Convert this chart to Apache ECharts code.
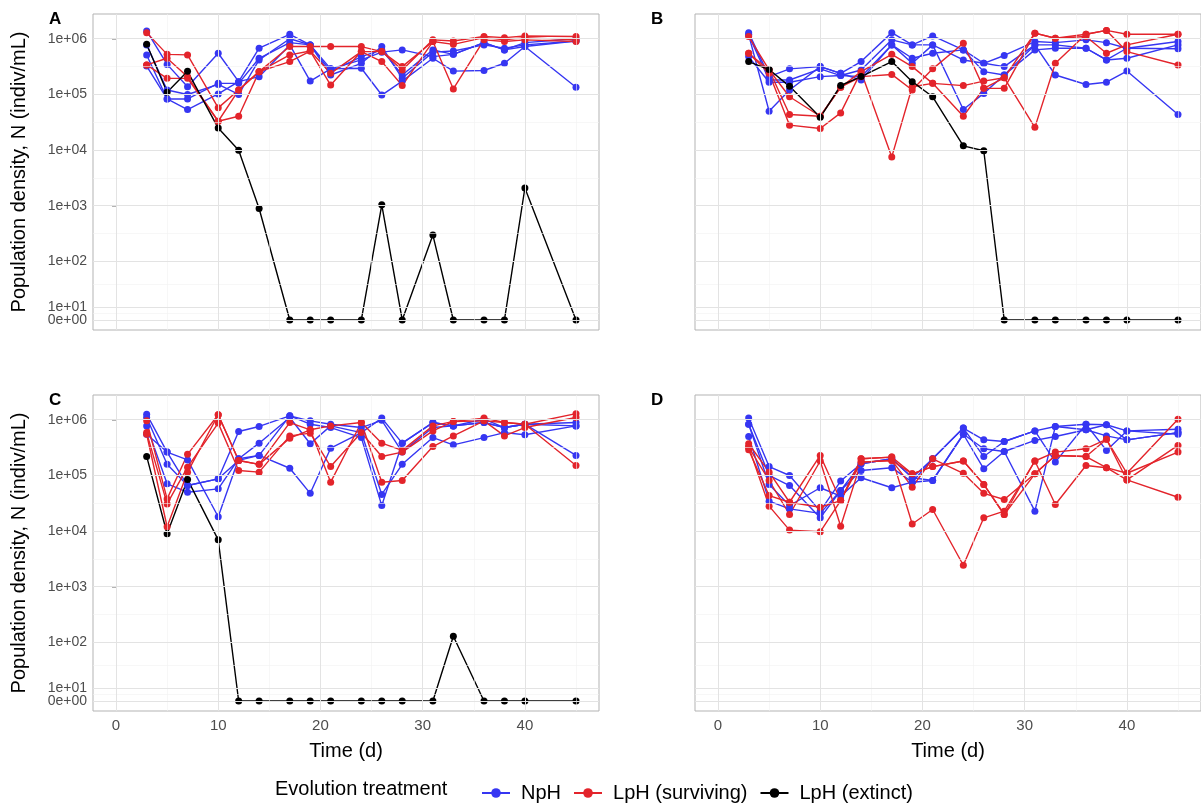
<!DOCTYPE html>
<html>
<head>
<meta charset="utf-8">
<script src="https://cdn.jsdelivr.net/npm/echarts@6/dist/echarts.min.js"></script>
<style>html,body{margin:0;padding:0;background:#fff}#chart{width:1201px;height:803px}</style>
</head>
<body>
<div id="chart"></div>
<script>
var days = [3, 5, 7, 10, 12, 14, 17, 19, 21, 24, 26, 28, 31, 33, 36, 38, 40, 45];
var yTickValues = [0, 10, 100, 1000, 10000, 100000, 1000000];
var yTickLabels = ['0e+00', '1e+01', '1e+02', '1e+03', '1e+04', '1e+05', '1e+06'];
var xTicks = [0, 10, 20, 30, 40];

// log10 density for NpH / LpH surviving replicates, raw density for extinct lines
var npA = [
  [6.14,5.54,5.14,5.74,5.23,5.83,6.08,5.89,5.35,5.56,5.86,5.29,5.76,5.78,5.89,5.83,5.89,5.96],
  [5.71,4.92,4.92,5.20,5.20,5.65,5.93,5.89,5.41,5.68,5.80,5.35,5.80,5.72,5.93,5.80,5.93,6.00],
  [5.51,4.92,4.73,5.01,5.23,5.32,5.89,5.24,5.46,5.47,4.99,5.24,5.65,5.42,5.43,5.56,5.86,5.13],
  [5.89,5.08,5.00,5.18,5.00,5.62,6.00,5.89,5.46,5.62,5.76,5.80,5.68,5.72,5.93,5.80,5.86,5.96]
];
var lpA = [
  [6.11,5.72,5.71,4.76,5.08,5.41,5.86,5.86,5.86,5.86,5.77,5.44,5.98,5.96,6.04,6.02,6.05,6.04],
  [5.53,5.65,5.32,4.52,4.61,5.41,5.59,5.78,5.17,5.77,5.59,5.16,5.95,5.10,5.98,5.95,5.98,5.95],
  [5.53,5.29,5.29,4.52,5.08,5.41,5.71,5.78,5.38,5.77,5.77,5.50,5.95,5.90,6.02,5.98,6.02,5.98]
];
var extA = [8e5,1.1e5,2.6e5,2.5e4,1e4,900,0,0,0,0,1050,0,300,0,0,0,2100,0];

var npB = [
  [6.11,5.32,5.46,5.50,5.38,5.59,6.11,5.89,6.05,5.80,5.56,5.70,5.95,5.93,5.98,5.93,5.83,5.95],
  [6.07,5.26,5.26,5.46,5.34,5.44,5.98,5.89,5.89,5.62,5.56,5.50,5.89,5.89,5.83,5.62,5.65,5.89],
  [5.68,5.22,5.22,5.32,5.34,5.32,5.89,5.65,5.74,5.80,5.41,5.35,5.80,5.83,5.83,5.62,5.83,5.82],
  [6.07,4.70,5.08,5.50,5.38,5.26,5.89,5.56,5.89,4.73,5.02,5.35,5.89,5.35,5.18,5.22,5.42,4.64]
];
var lpB = [
  [6.04,5.44,4.96,4.61,5.13,5.41,5.72,5.50,5.20,5.16,5.24,5.30,6.10,6.01,6.08,6.15,6.08,6.08],
  [5.74,5.44,4.64,4.61,5.13,5.32,5.36,5.08,5.46,5.92,5.11,5.11,6.10,6.01,6.04,5.74,5.89,6.08],
  [5.74,5.38,4.45,4.39,4.67,5.41,3.88,5.14,5.20,4.61,5.11,5.30,4.41,5.56,6.08,6.15,5.77,5.53]
];
var extB = [3.9e5,2.8e5,1.4e5,3.9e4,1.45e5,2.1e5,3.9e5,1.7e5,9.1e4,1.2e4,9.8e3,0,0,0,0,0,0,0];

var npC = [
  [6.10,5.42,5.28,4.26,5.30,5.36,5.13,4.68,5.49,5.77,6.03,5.58,5.95,5.89,5.95,5.86,5.92,5.95],
  [6.04,5.20,4.82,4.94,5.79,5.88,6.07,5.98,5.92,5.86,5.99,5.42,5.86,5.89,6.01,5.86,5.92,5.89],
  [5.89,4.85,4.70,4.76,5.30,5.58,6.04,5.57,5.89,5.77,4.66,5.20,5.68,5.55,5.68,5.77,5.73,5.89],
  [5.74,5.42,4.82,4.94,5.27,5.36,6.07,5.92,5.86,5.68,4.46,5.58,5.95,5.89,5.95,5.86,5.92,5.36]
];
var lpC = [
  [5.98,4.58,5.38,6.09,5.27,5.20,5.95,5.82,5.89,5.95,5.58,5.45,5.89,5.97,6.03,5.95,5.92,6.11],
  [5.77,4.49,5.15,5.94,5.09,5.06,5.71,5.76,5.16,5.77,5.34,5.42,5.80,5.97,5.98,5.71,5.86,6.04],
  [5.74,4.08,5.06,6.09,5.27,5.20,5.67,5.82,4.88,5.95,4.88,4.91,5.52,5.71,5.98,5.95,5.92,5.18]
];
var extC = [2.2e5,9e3,8.5e4,7e3,0,0,0,0,0,0,0,0,0,130,0,0,0,0];

var npD = [
  [6.03,5.16,5.00,4.36,4.90,5.21,5.30,4.96,5.30,5.85,5.64,5.61,5.80,5.88,5.92,5.91,5.80,5.83],
  [5.92,5.00,4.82,4.24,4.73,5.09,5.14,4.88,4.91,5.74,5.48,5.43,5.63,5.70,5.82,5.71,5.64,5.77],
  [5.92,4.84,4.46,4.78,4.63,4.96,4.78,4.88,5.30,5.85,5.34,5.61,5.80,5.24,5.92,5.45,5.80,5.74],
  [5.70,4.54,4.40,4.32,4.73,5.21,5.30,4.96,4.91,5.74,5.12,5.43,4.36,5.88,5.82,5.91,5.64,5.77]
];
var lpD = [
  [5.57,5.06,4.52,5.36,4.55,5.30,5.33,5.03,5.16,5.26,4.84,4.30,5.26,5.42,5.48,5.65,5.04,6.01],
  [5.51,4.91,4.30,5.26,4.09,5.24,5.27,4.79,5.30,5.04,4.68,4.57,5.03,5.36,5.34,5.14,4.92,5.54],
  [5.46,4.64,4.52,4.43,4.55,5.30,5.33,4.13,4.39,3.39,4.24,4.36,5.26,4.48,5.18,5.14,5.04,5.42],
  [5.51,4.45,4.02,3.99,4.55,5.24,5.27,5.03,5.16,5.26,4.84,4.30,5.03,5.36,5.34,5.65,4.92,4.61]
];

var BLUE = '#3636f2', RED = '#e3242b', BLACK = '#000000';

// pseudo-log transform (sigma = 9)
function tr(n) { return Math.asinh(n / 18) / Math.LN10; }

var panels = [
  { tag: 'A', np: npA, lp: lpA, ext: extA, left: 93, top: 14 },
  { tag: 'B', np: npB, lp: lpB, ext: extB, left: 695, top: 14 },
  { tag: 'C', np: npC, lp: lpC, ext: extC, left: 93, top: 395 },
  { tag: 'D', np: npD, lp: lpD, ext: null, left: 695, top: 395 }
];

var yMajor = yTickValues.map(tr);
var yMinor = [];
for (var i = 0; i < yMajor.length - 1; i++) yMinor.push((yMajor[i] + yMajor[i + 1]) / 2);

function labelFor(v) {
  var best = 0;
  yMajor.forEach(function (m, j) { if (Math.abs(m - v) < Math.abs(yMajor[best] - v)) best = j; });
  return yTickLabels[best];
}

var grids = [], xAxes = [], yAxes = [], series = [], graphics = [];

panels.forEach(function (p, k) {
  var bottomRow = k >= 2, leftCol = k % 2 === 0;
  grids.push({ left: p.left, top: p.top, width: 506, height: 316,
    show: true, borderColor: '#b3b3b3', borderWidth: 1, backgroundColor: '#fff' });
  xAxes.push({
    type: 'value', gridIndex: k, min: -2.25, max: 47.25,
    axisLine: { show: false },
    axisTick: { show: bottomRow, customValues: xTicks, length: 4, lineStyle: { color: '#b3b3b3' } },
    axisLabel: { show: bottomRow, customValues: xTicks, color: '#4d4d4d', fontSize: 15, margin: 7, fontFamily: 'Liberation Sans' },
    splitLine: { show: false },
    name: bottomRow ? 'Time (d)' : '', nameLocation: 'middle', nameGap: 30,
    nameTextStyle: { fontSize: 20, color: '#000', fontFamily: 'Liberation Sans' }
  });
  // main y axis: every label except 1e+01 (that one sits on its own axis so it is not hidden by overlap)
  var mainVals = yMajor.filter(function (v, j) { return j !== 1; });
  yAxes.push({
    type: 'value', gridIndex: k, min: -0.18, max: 5.49, position: 'left',
    axisLine: { show: false },
    axisTick: { show: leftCol, customValues: yMajor, length: 4, lineStyle: { color: '#b3b3b3' } },
    axisLabel: { show: leftCol, customValues: mainVals, showMinLabel: true, showMaxLabel: true, hideOverlap: false,
      color: '#4d4d4d', fontSize: 14, margin: 6, fontFamily: 'Liberation Sans', formatter: labelFor },
    splitLine: { show: false },
    name: leftCol ? 'Population density, N (indiv/mL)' : '', nameLocation: 'middle', nameGap: 64,
    nameTextStyle: { fontSize: 20, color: '#000', fontFamily: 'Liberation Sans' }
  });
  yAxes.push({
    type: 'value', gridIndex: k, min: -0.18, max: 5.49, position: 'left',
    axisLine: { show: false }, axisTick: { show: false }, splitLine: { show: false },
    axisLabel: { show: leftCol, customValues: [yMajor[1]], hideOverlap: false,
      color: '#4d4d4d', fontSize: 14, margin: 6, fontFamily: 'Liberation Sans', formatter: labelFor }
  });
  var yi = k * 2;

  // grid lines
  var ml = [];
  yMinor.forEach(function (v) { ml.push({ yAxis: v, lineStyle: { color: '#f1f1f1', width: 0.6, type: 'solid' } }); });
  [5, 15, 25, 35, 45].forEach(function (v) { ml.push({ xAxis: v, lineStyle: { color: '#f1f1f1', width: 0.6, type: 'solid' } }); });
  yMajor.forEach(function (v) { ml.push({ yAxis: v, lineStyle: { color: '#e3e3e3', width: 1, type: 'solid' } }); });
  xTicks.forEach(function (v) { ml.push({ xAxis: v, lineStyle: { color: '#e3e3e3', width: 1, type: 'solid' } }); });
  series.push({ type: 'line', xAxisIndex: k, yAxisIndex: yi, data: [], silent: true, z: 1,
    markLine: { silent: true, symbol: 'none', label: { show: false }, animation: false, data: ml } });

  function add(name, color, vals, isLog) {
    series.push({
      name: name, type: 'line', xAxisIndex: k, yAxisIndex: yi, z: 3,
      data: days.map(function (d, j) { return [d, tr(isLog ? Math.pow(10, vals[j]) : vals[j])]; }),
      symbol: 'circle', symbolSize: 7, showSymbol: true,
      lineStyle: { color: color, width: 1.4 }, itemStyle: { color: color, borderWidth: 0 }, animation: false
    });
  }
  p.np.forEach(function (r) { add('NpH', BLUE, r, true); });
  p.lp.forEach(function (r) { add('LpH (surviving)', RED, r, true); });
  if (p.ext) add('LpH (extinct)', BLACK, p.ext, false);

  graphics.push({ type: 'text', left: p.left - 44, top: p.top - 3,
    style: { text: p.tag, font: 'bold 17px Liberation Sans', fill: '#000' } });
});

graphics.push({ type: 'text', left: 275, top: 779,
  style: { text: 'Evolution treatment', font: '20px Liberation Sans', fill: '#000' } });

var chart = echarts.init(document.getElementById('chart'));
chart.setOption({
  animation: false,
  grid: grids, xAxis: xAxes, yAxis: yAxes, series: series, graphic: graphics,
  legend: {
    data: ['NpH', 'LpH (surviving)', 'LpH (extinct)'],
    left: 476, top: 778, itemWidth: 28, itemHeight: 12, itemGap: 12,
    textStyle: { fontSize: 20, color: '#000', fontFamily: 'Liberation Sans', padding: [0, 0, 0, 6] }
  }
});
window.addEventListener('resize', function () { chart.resize(); });
</script>
</body>
</html>
